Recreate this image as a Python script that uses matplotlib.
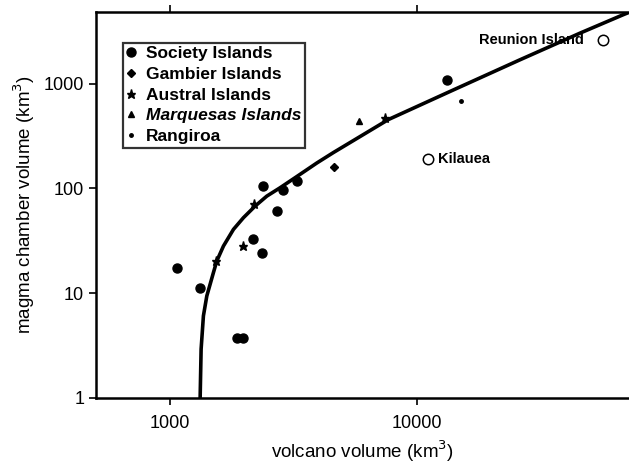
import matplotlib

matplotlib.use("Agg")
import matplotlib.pyplot as plt
from matplotlib.lines import Line2D

plt.rcParams["font.family"] = ["Liberation Sans", "DejaVu Sans"]

# volcano volume (km3), magma chamber volume (km3)
society_x = [1065, 1319, 1867, 1972, 2168, 2350, 2380, 2710, 2860, 3260, 13230]
society_y = [17.3, 11.3, 3.75, 3.75, 32.7, 24.4, 105, 60.8, 96.4, 117, 1075]
gambier_x = [4600]
gambier_y = [160]
austral_x = [1535, 1970, 2188, 7410]
austral_y = [20.2, 28.2, 70.4, 471]
marquesas_x = [5820]
marquesas_y = [437]
rangiroa_x = [15070]
rangiroa_y = [689]
autres_nomes = ["Reunion Island", "Kilauea"]
autres_x = [56500, 11110]
autres_y = [2625, 189]

# courbe
curva_x = [1300, 1323, 1335, 1364, 1408, 1497, 1545, 1644, 1805, 1981, 2208, 2463,
           2788, 3259, 3926, 4580, 7655, 13620, 26120, 45700, 68100, 80000]
curva_y = [0.8, 1.0, 2.93, 6.08, 9.43, 15.7, 20.3, 28.2, 40.7, 52.6, 67.8, 84.5,
           101.6, 130, 175, 220, 455, 845, 1693, 3040, 4540, 5300]

fig = plt.figure(figsize=(6.29, 4.63), dpi=100)
ax = fig.add_axes([0.1526, 0.1404, 0.8474, 0.834])
ax.set_xscale("log")
ax.set_yscale("log")
ax.set_xlim(501, 72100)
ax.set_ylim(1, 4850)

ax.plot(curva_x, curva_y, color="black", lw=2.6, solid_capstyle="round",
        solid_joinstyle="round", zorder=2)

ax.plot(society_x, society_y, "o", color="black", ms=6.5, ls="none", zorder=3)
ax.plot(gambier_x, gambier_y, "D", color="black", ms=4.5, ls="none", zorder=3)
ax.plot(austral_x, austral_y, "*", color="black", ms=6.5, ls="none", zorder=3)
ax.plot(marquesas_x, marquesas_y, "^", color="black", ms=5, ls="none", zorder=3)
ax.plot(rangiroa_x, rangiroa_y, "o", color="black", ms=2.5, ls="none", zorder=3)
ax.plot(autres_x, autres_y, "o", mfc="white", mec="black", mew=1.1, ms=7.5, ls="none", zorder=3)

ax.text(47500, autres_y[0], autres_nomes[0], ha="right", va="center",
        fontsize=10.5, fontweight="bold")
ax.text(12200, autres_y[1], autres_nomes[1], ha="left", va="center",
        fontsize=10.5, fontweight="bold")

# legende
handles = [
    Line2D([], [], marker="o", color="black", ls="none", ms=6.5),
    Line2D([], [], marker="D", color="black", ls="none", ms=4.5),
    Line2D([], [], marker="*", color="black", ls="none", ms=6.5),
    Line2D([], [], marker="^", color="black", ls="none", ms=5),
    Line2D([], [], marker="o", color="black", ls="none", ms=2.5),
]
labels = ["Society Islands", "Gambier Islands", "Austral Islands",
          "Marquesas Islands", "Rangiroa"]
leg = ax.legend(handles, labels, loc="upper left", bbox_to_anchor=(0.05, 0.92),
                frameon=True, fancybox=False, edgecolor="black", fontsize=12.5,
                handlelength=0.6, handletextpad=0.55, borderpad=0.2,
                labelspacing=0.32, borderaxespad=0)
leg.get_frame().set_linewidth(1.6)
for i, t in enumerate(leg.get_texts()):
    t.set_fontweight("bold")
    if i == 3:
        t.set_fontstyle("italic")

for lado in ("left", "bottom", "top"):
    ax.spines[lado].set_linewidth(1.8)
ax.spines["right"].set_visible(False)

ax.set_xticks([1000, 10000])
ax.set_xticklabels(["1000", "10000"])
ax.set_yticks([1, 10, 100, 1000])
ax.set_yticklabels(["1", "10", "100", "1000"])
ax.minorticks_off()
ax.tick_params(axis="both", which="major", direction="out", length=5, width=1.2,
               labelsize=13, top=True, right=False)
ax.tick_params(axis="x", pad=7)

ax.set_xlabel("volcano volume (km$^3$)", fontsize=13.5, labelpad=5)
ax.set_ylabel("magma chamber volume (km$^3$)", fontsize=13.5, labelpad=5)

fig.savefig("out.png", dpi=100)
plt.close(fig)
